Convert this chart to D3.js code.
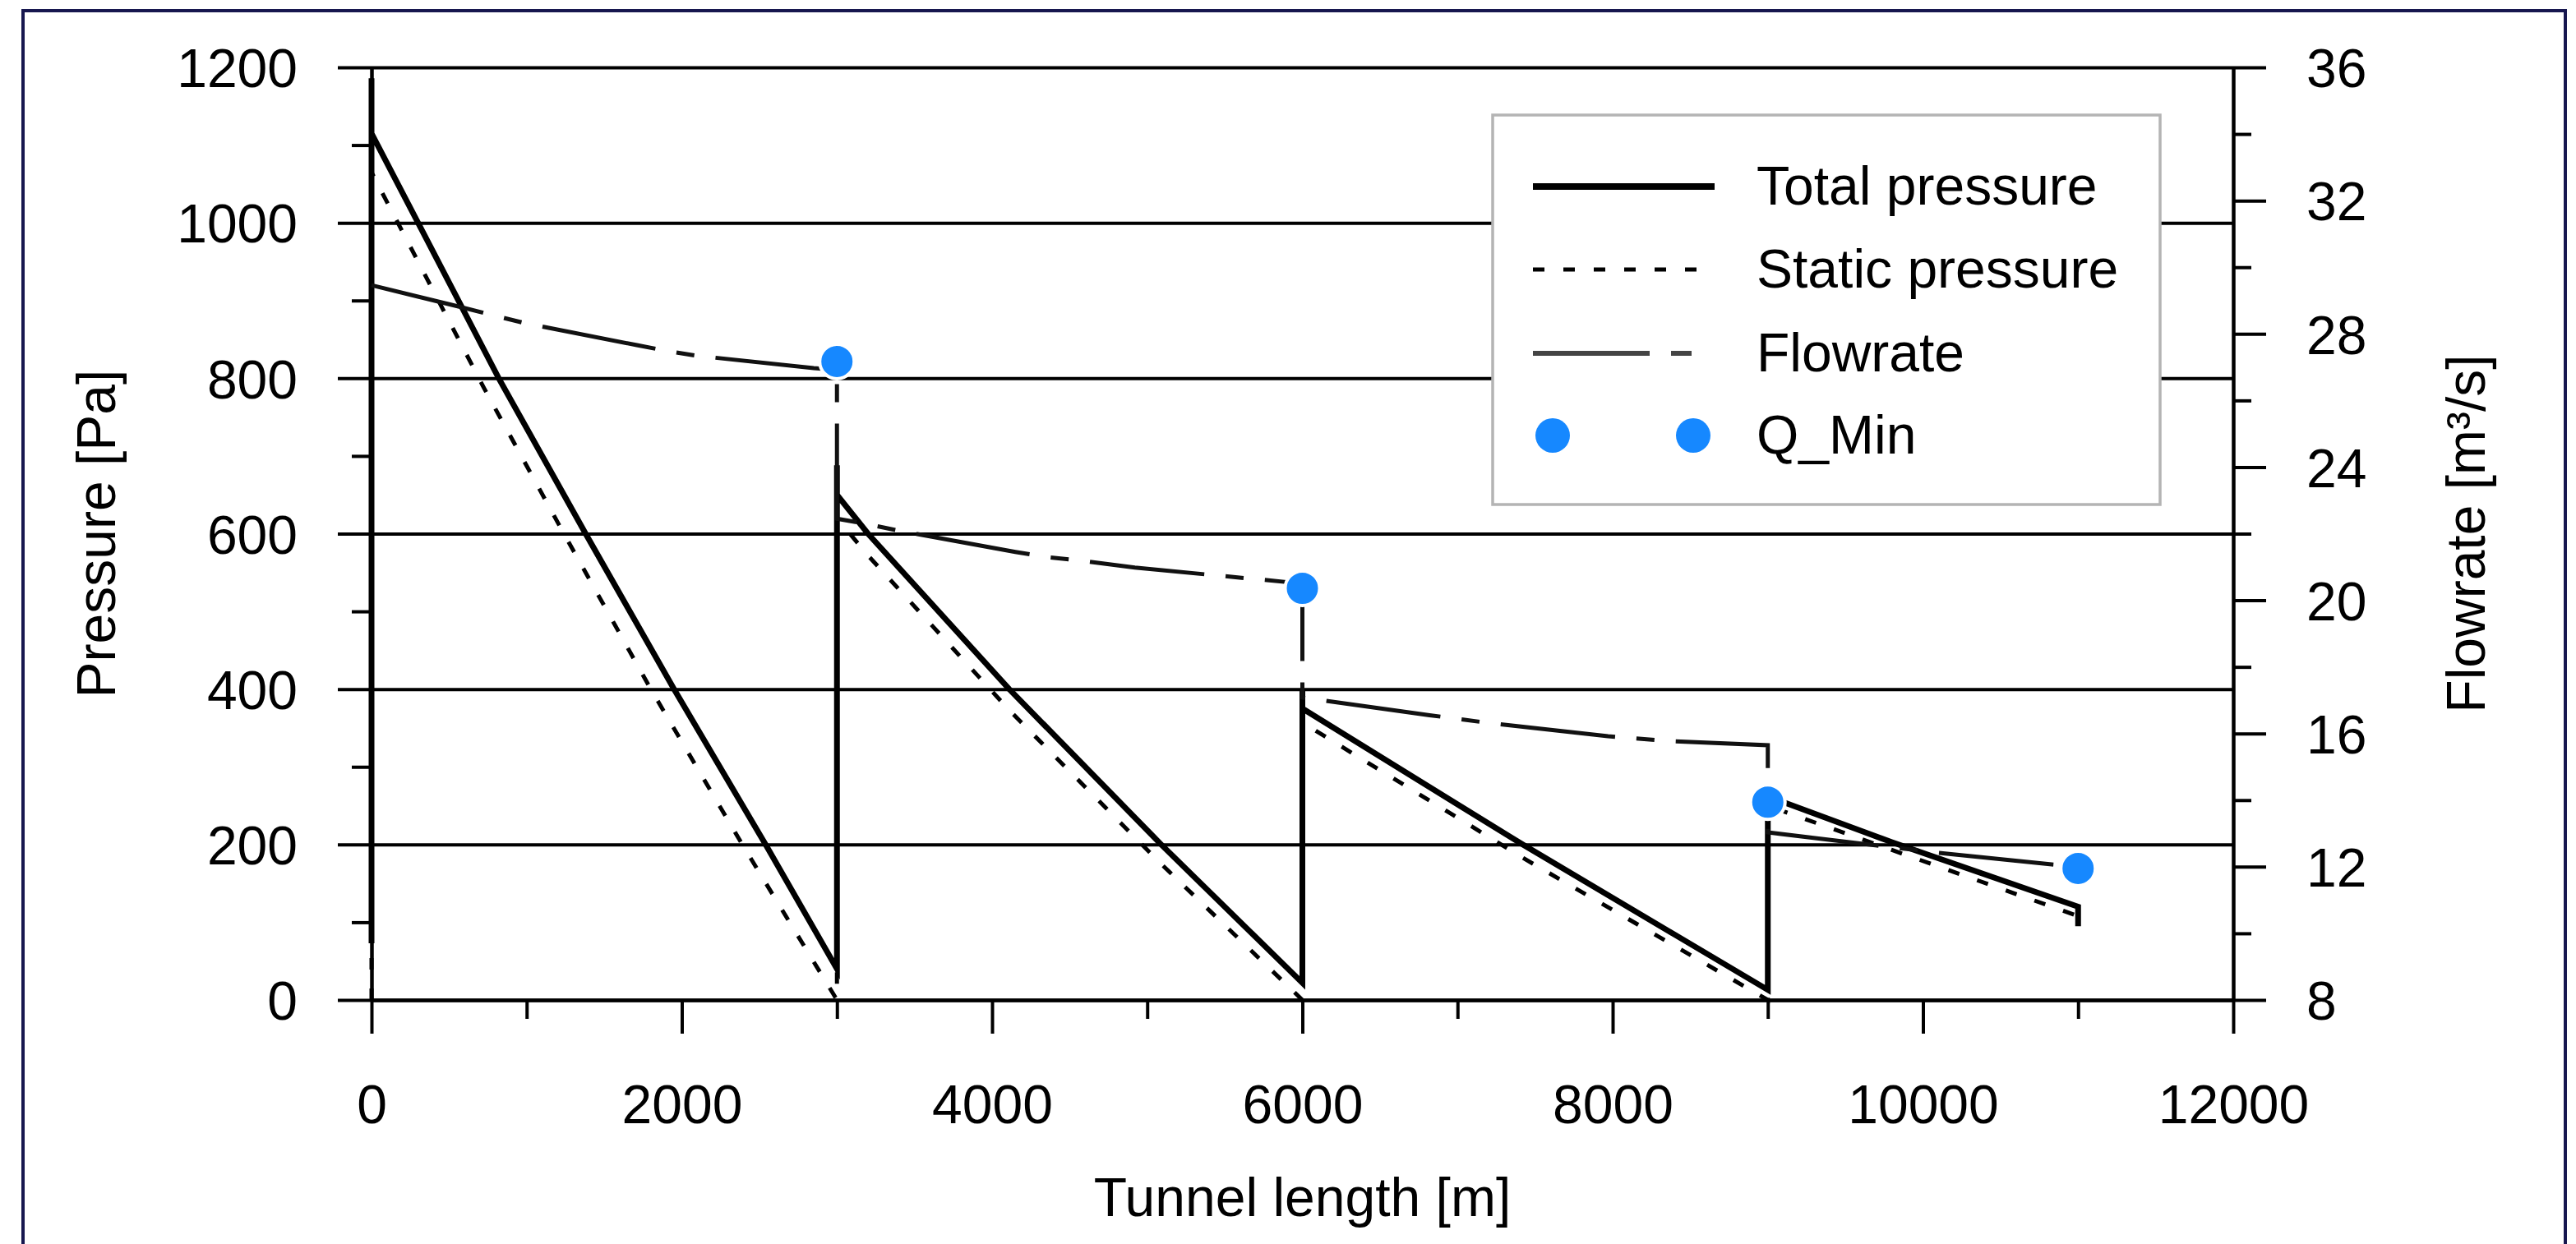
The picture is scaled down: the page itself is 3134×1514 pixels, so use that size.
<!DOCTYPE html>
<meta charset="utf-8">
<body style="margin:0;background:#fff">
<script src="https://cdn.jsdelivr.net/npm/d3@7"></script>
<div id="chart"></div>
<script>
    // series: [tunnel length m, value]
    var totalPressure = [[0,73],[0,1186],[0,1115],[300,1000],[820,800],[1380,600],[1950,400],[2540,200],[3000,40],
        [3000,688],[3000,650],[3200,600],[4110,400],[5090,200],[6000,22],
        [6000,398],[6000,375],[7420,200],[9000,13],
        [9000,262],[9800,203],[11000,120],[11000,95]];
    var staticPressure = [[0,0],[0,1065],[726,787],[1240,600],[1800,400],[2390,200],[3000,0],
        [3000,620],[3200,572],[4110,373],[5090,175],[6000,0],
        [6000,357],[7420,183],[9000,0],
        [9000,250],[9800,193],[11000,108]];
    var flowrate = [[0,29.46],[560,28.82],[790,28.55],[980,28.33],[1710,27.66],[1900,27.49],[2100,27.34],[2850,26.97],[3000,26.92],
        [3000,22.45],[3170,22.31],[3400,22.09],[4150,21.45],[4350,21.3],[4560,21.2],[4920,20.98],[5870,20.56],[6000,20.5],
        [6000,17.08],[6820,16.55],[7230,16.3],[7970,15.92],[8380,15.77],[9000,15.65],
        [9000,13.03],[10100,12.42],[10830,12.07],[11000,12.0]];
    var qMin = [[3000,27.17],[6000,20.36],[9000,13.94],[11000,11.95]];

    var xTicks = [0,2000,4000,6000,8000,10000,12000];
    var xMinor = [1000,3000,5000,7000,9000,11000];
    var pTicks = [0,200,400,600,800,1000,1200];
    var pMinor = [100,300,500,700,900,1100];
    var qTicks = [8,12,16,20,24,28,32,36];
    var qMinor = [10,14,18,22,26,30,34];
    var legendNames = ["Total pressure","Static pressure","Flowrate","Q_Min"];

    var W = 3134, H = 1514;
    var plotL = 452, plotR = 2717, plotT = 82, plotB = 1217;
    var font = "'Liberation Sans', Arial, sans-serif";
    var blue = "#1688ff";

    var svg = d3.select("#chart").append("svg")
        .attr("width", W).attr("height", H)
        .style("display", "block")
        .style("font-family", font);

    // outer frame
    svg.append("rect")
        .attr("x", 28).attr("y", 13)
        .attr("width", 3093).attr("height", 1600)
        .attr("fill", "none").attr("stroke", "#17174f").attr("stroke-width", 4);

    var x = d3.scaleLinear().domain([0, 12000]).range([plotL, plotR]);
    var yP = d3.scaleLinear().domain([0, 1200]).range([plotB, plotT]);
    var yQ = d3.scaleLinear().domain([8, 36]).range([plotB, plotT]);
    var fmt = d3.format("d");

    function styleAxis(g) {
        g.selectAll("line").attr("stroke", "#000").attr("stroke-width", 4);
        g.select(".domain").attr("stroke", "#000").attr("stroke-width", 4);
        g.selectAll("text").attr("fill", "#000").style("font-size", "66px").style("font-family", font);
    }

    // left axis with gridlines
    var gLeft = svg.append("g").attr("transform", "translate(" + plotL + ",0)")
        .call(d3.axisLeft(yP).tickValues(pTicks).tickSize(41).tickSizeOuter(0).tickPadding(49).tickFormat(fmt));
    gLeft.selectAll(".tick line").attr("x1", plotR - plotL);
    gLeft.selectAll(".tick text").attr("dy", "0.36em");
    styleAxis(gLeft);
    var gLeftMinor = svg.append("g").attr("transform", "translate(" + plotL + ",0)")
        .call(d3.axisLeft(yP).tickValues(pMinor).tickSize(24).tickSizeOuter(0).tickFormat(""));
    styleAxis(gLeftMinor);

    // right axis
    var gRight = svg.append("g").attr("transform", "translate(" + plotR + ",0)")
        .call(d3.axisRight(yQ).tickValues(qTicks).tickSize(40).tickSizeOuter(0).tickPadding(49).tickFormat(fmt));
    gRight.selectAll(".tick text").attr("dy", "0.36em");
    styleAxis(gRight);
    var gRightMinor = svg.append("g").attr("transform", "translate(" + plotR + ",0)")
        .call(d3.axisRight(yQ).tickValues(qMinor).tickSize(22).tickSizeOuter(0).tickFormat(""));
    styleAxis(gRightMinor);

    // bottom axis
    var gBottom = svg.append("g").attr("transform", "translate(0," + plotB + ")")
        .call(d3.axisBottom(x).tickValues(xTicks).tickSize(41).tickSizeOuter(0).tickPadding(62).tickFormat(fmt));
    styleAxis(gBottom);
    var gBottomMinor = svg.append("g").attr("transform", "translate(0," + plotB + ")")
        .call(d3.axisBottom(x).tickValues(xMinor).tickSize(23).tickSizeOuter(0).tickFormat(""));
    styleAxis(gBottomMinor);

    // axis titles
    svg.append("text")
        .attr("transform", "translate(140," + ((plotT + plotB) / 2) + ") rotate(-90)")
        .attr("text-anchor", "middle").style("font-size", "66px")
        .text("Pressure [Pa]");
    svg.append("text")
        .attr("transform", "translate(3023," + ((plotT + plotB) / 2) + ") rotate(-90)")
        .attr("text-anchor", "middle").style("font-size", "66px")
        .text("Flowrate [m³/s]");
    svg.append("text")
        .attr("x", (plotL + plotR) / 2).attr("y", 1480)
        .attr("text-anchor", "middle").style("font-size", "66px")
        .text("Tunnel length [m]");

    // legend box
    var lg = svg.append("g");
    lg.append("rect")
        .attr("x", 1816).attr("y", 140).attr("width", 812).attr("height", 474)
        .attr("fill", "#fff").attr("stroke", "#b4b4b4").attr("stroke-width", 3.5);
    var rows = [227, 328, 430, 530];
    lg.append("line").attr("x1", 1865).attr("x2", 2086).attr("y1", rows[0]).attr("y2", rows[0])
        .attr("stroke", "#000").attr("stroke-width", 8);
    lg.append("line").attr("x1", 1865).attr("x2", 2086).attr("y1", rows[1]).attr("y2", rows[1])
        .attr("stroke", "#000").attr("stroke-width", 5).attr("stroke-dasharray", "14,23");
    lg.append("line").attr("x1", 1865).attr("x2", 2058).attr("y1", rows[2]).attr("y2", rows[2])
        .attr("stroke", "#444").attr("stroke-width", 6).attr("stroke-dasharray", "142,26,25,26");
    lg.selectAll("circle.leg").data([1889, 2060]).enter().append("circle")
        .attr("class", "leg")
        .attr("cx", function(d) { return d; }).attr("cy", rows[3]).attr("r", 21).attr("fill", blue);
    lg.selectAll("text.leg").data(legendNames).enter().append("text")
        .attr("class", "leg")
        .attr("x", 2137).attr("y", function(d, i) { return rows[i] + 22; })
        .style("font-size", "66px")
        .text(function(d) { return d; });

    // data lines
    var lineP = d3.line().x(function(d) { return x(d[0]); }).y(function(d) { return yP(d[1]); });
    var lineQ = d3.line().x(function(d) { return x(d[0]); }).y(function(d) { return yQ(d[1]); });

    svg.append("path").datum(staticPressure)
        .attr("fill", "none").attr("stroke", "#000").attr("stroke-width", 5)
        .attr("stroke-dasharray", "14,23")
        .attr("d", lineP);
    svg.append("path").datum(totalPressure)
        .attr("fill", "none").attr("stroke", "#000").attr("stroke-width", 7)
        .attr("d", lineP);
    svg.append("path").datum(flowrate)
        .attr("fill", "none").attr("stroke", "#111").attr("stroke-width", 5)
        .attr("stroke-dasharray", "140,26,22,26")
        .attr("d", lineQ);

    svg.selectAll("circle.qmin").data(qMin).enter().append("circle")
        .attr("class", "qmin")
        .attr("cx", function(d) { return x(d[0]); })
        .attr("cy", function(d) { return yQ(d[1]); })
        .attr("r", 21)
        .attr("fill", blue).attr("stroke", "#fff").attr("stroke-width", 4);
</script>
</body>
